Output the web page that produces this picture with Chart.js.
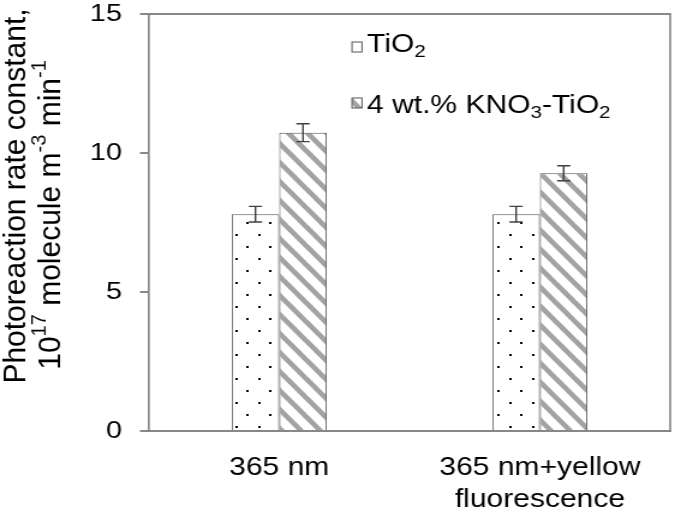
<!DOCTYPE html>
<html>
<head>
    <title>Photoreaction rate constant</title>
    <style>
        body { margin: 0; background: #fff; }
    </style>
</head>
<body>
    <!-- the original figure is a little stretched sideways, so the canvas is too -->
    <canvas id="chart" width="562" height="514" style="display:block;width:675px;height:514px"></canvas>

    <script src="https://cdn.jsdelivr.net/npm/chart.js"></script>
    <script>
        // data
        const categories = ['365 nm', ['365 nm+yellow', 'fluorescence']];
        const tio2Values = [7.8, 7.8];
        const tio2Errors = [0.28, 0.28];
        const knoValues = [10.73, 9.27];
        const knoErrors = [0.32, 0.27];
        const yTicks = [0, 5, 10, 15];
        const seriesNames = ['TiO2', '4 wt.% KNO3-TiO2'];
        // rich text pieces: [text, 'n' | 'sup' | 'sub']
        const legendParts = [
            [['TiO', 'n'], ['2', 'sub']],
            [['4 wt.% KNO', 'n'], ['3', 'sub'], ['-TiO', 'n'], ['2', 'sub']]
        ];
        const titleLines = [
            [['Photoreaction rate constant,', 'n']],
            [['10', 'n'], ['17', 'sup'], [' molecule m', 'n'], ['-3', 'sup'], [' min', 'n'], ['-1', 'sup']]
        ];

        const S = 675 / 562;      // horizontal stretch of the page
        const FONT = "'Liberation Sans', Arial, sans-serif";
        const AXIS = '#888888';

        Chart.defaults.font.family = FONT;
        Chart.defaults.color = '#000';

        function dotPattern() {
            const c = document.createElement('canvas');
            c.width = 19; c.height = 24;
            const g = c.getContext('2d');
            g.fillStyle = '#fff';
            g.fillRect(0, 0, 19, 24);
            g.fillStyle = '#000';
            g.fillRect(6, 18, 2, 2);
            g.fillRect(15, 6, 2, 2);
            return g.createPattern(c, 'repeat');
        }

        function stripePattern() {
            const w = 16, h = 19;
            const c = document.createElement('canvas');
            c.width = w; c.height = h;
            const g = c.getContext('2d');
            g.fillStyle = '#fff';
            g.fillRect(0, 0, w, h);
            g.strokeStyle = '#a3a3a3';
            g.lineWidth = 4.6;
            for (const dx of [-w, 0, w]) {
                g.beginPath();
                g.moveTo(dx - w, -h);
                g.lineTo(dx + 2 * w, 2 * h);
                g.stroke();
            }
            return g.createPattern(c, 'repeat');
        }

        const fills = [dotPattern(), stripePattern()];

        // text made of normal / superscript / subscript pieces
        function richWidth(ctx, parts, size) {
            let w = 0;
            for (const [t, k] of parts) {
                ctx.font = (k === 'n' ? size : Math.round(size * 0.66)) + 'px ' + FONT;
                w += ctx.measureText(t).width;
            }
            return w;
        }
        function drawRich(ctx, parts, x, y, size) {
            for (const [t, k] of parts) {
                const s = k === 'n' ? size : Math.round(size * 0.66);
                const dy = k === 'sup' ? -size * 0.38 : (k === 'sub' ? size * 0.2 : 0);
                ctx.font = s + 'px ' + FONT;
                ctx.fillText(t, x, y + dy);
                x += ctx.measureText(t).width;
            }
        }

        const extras = {
            id: 'extras',
            afterDatasetsDraw(chart) {
                const ctx = chart.ctx;
                const y = chart.scales.y;
                [tio2Errors, knoErrors].forEach((errs, i) => {
                    const vals = chart.data.datasets[i].data;
                    chart.getDatasetMeta(i).data.forEach((bar, j) => {
                        const top = y.getPixelForValue(vals[j] + errs[j]);
                        const bot = y.getPixelForValue(vals[j] - errs[j]);
                        ctx.save();
                        ctx.strokeStyle = '#404040';
                        ctx.lineWidth = 1.4;
                        ctx.beginPath();
                        ctx.moveTo(bar.x, top); ctx.lineTo(bar.x, bot);
                        ctx.moveTo(bar.x - 5.5, top); ctx.lineTo(bar.x + 5.5, top);
                        ctx.moveTo(bar.x - 5.5, bot); ctx.lineTo(bar.x + 5.5, bot);
                        ctx.stroke();
                        ctx.restore();
                    });
                });
            },
            afterDraw(chart) {
                const ctx = chart.ctx;
                const a = chart.chartArea;
                ctx.save();
                // top and right frame
                ctx.strokeStyle = AXIS;
                ctx.lineWidth = 2;
                ctx.beginPath();
                ctx.moveTo(a.left, a.top); ctx.lineTo(a.right, a.top);
                ctx.stroke();
                ctx.lineWidth = 2 / S;
                ctx.beginPath();
                ctx.moveTo(a.right, a.top - 1); ctx.lineTo(a.right, a.bottom);
                ctx.stroke();

                // legend inside the plot
                const boxX = 352 / S, textX = 367 / S;
                const rows = [{ box: 42, base: 52 }, { box: 98, base: 113 }];
                legendParts.forEach((parts, i) => {
                    ctx.fillStyle = fills[i];
                    ctx.fillRect(boxX, rows[i].box, 10 / S, 10);
                    ctx.strokeStyle = '#555';
                    ctx.lineWidth = 1;
                    ctx.strokeRect(boxX, rows[i].box, 10 / S, 10);
                    ctx.fillStyle = '#000';
                    ctx.textBaseline = 'alphabetic';
                    ctx.textAlign = 'left';
                    drawRich(ctx, parts, textX, rows[i].base, 25);
                });

                // rotated y title, kept unstretched
                const centers = [{ x: 17, y: 196 }, { x: 52, y: 215 }];
                titleLines.forEach((parts, i) => {
                    ctx.save();
                    ctx.translate(centers[i].x / S, centers[i].y);
                    ctx.scale(1 / S, 1);
                    ctx.rotate(-Math.PI / 2);
                    ctx.fillStyle = '#000';
                    ctx.textBaseline = 'middle';
                    ctx.textAlign = 'left';
                    const w = richWidth(ctx, parts, 30);
                    drawRich(ctx, parts, -w / 2, 0, 30);
                    ctx.restore();
                });
                ctx.restore();
            }
        };

        new Chart(document.getElementById('chart'), {
            type: 'bar',
            data: {
                labels: categories,
                datasets: [{
                    label: seriesNames[0],
                    data: tio2Values,
                    backgroundColor: fills[0],
                    borderColor: '#555',
                    borderWidth: 1,
                }, {
                    label: seriesNames[1],
                    data: knoValues,
                    backgroundColor: fills[1],
                    borderColor: '#555',
                    borderWidth: 1,
                }],
            },
            options: {
                responsive: false,
                animation: false,
                devicePixelRatio: 1,
                layout: { padding: { top: 14, right: 4, left: 0, bottom: 0 } },
                datasets: { bar: { categoryPercentage: 0.365, barPercentage: 1 } },
                plugins: { legend: { display: false }, tooltip: { enabled: false } },
                scales: {
                    x: {
                        grid: { display: false, drawTicks: false },
                        border: { color: AXIS, width: 2 },
                        ticks: { padding: 21, color: '#000', maxRotation: 0, font: { size: 25, lineHeight: 1.28 } },
                        afterFit: s => { s.height = 83; },
                    },
                    y: {
                        min: 0,
                        max: 15,
                        afterBuildTicks: s => { s.ticks = yTicks.map(v => ({ value: v })); },
                        grid: { drawOnChartArea: false, drawTicks: true, tickLength: 7.5, color: AXIS, lineWidth: 2 },
                        border: { color: AXIS, width: 1.7 },
                        ticks: { padding: 15, color: '#000', font: { size: 24 } },
                        afterFit: s => {
                            s.width = 124;
                            s.paddingTop = 0;
                            s.paddingBottom = 0;
                        },
                    },
                },
            },
            plugins: [extras],
        });
    </script>
</body>
</html>
